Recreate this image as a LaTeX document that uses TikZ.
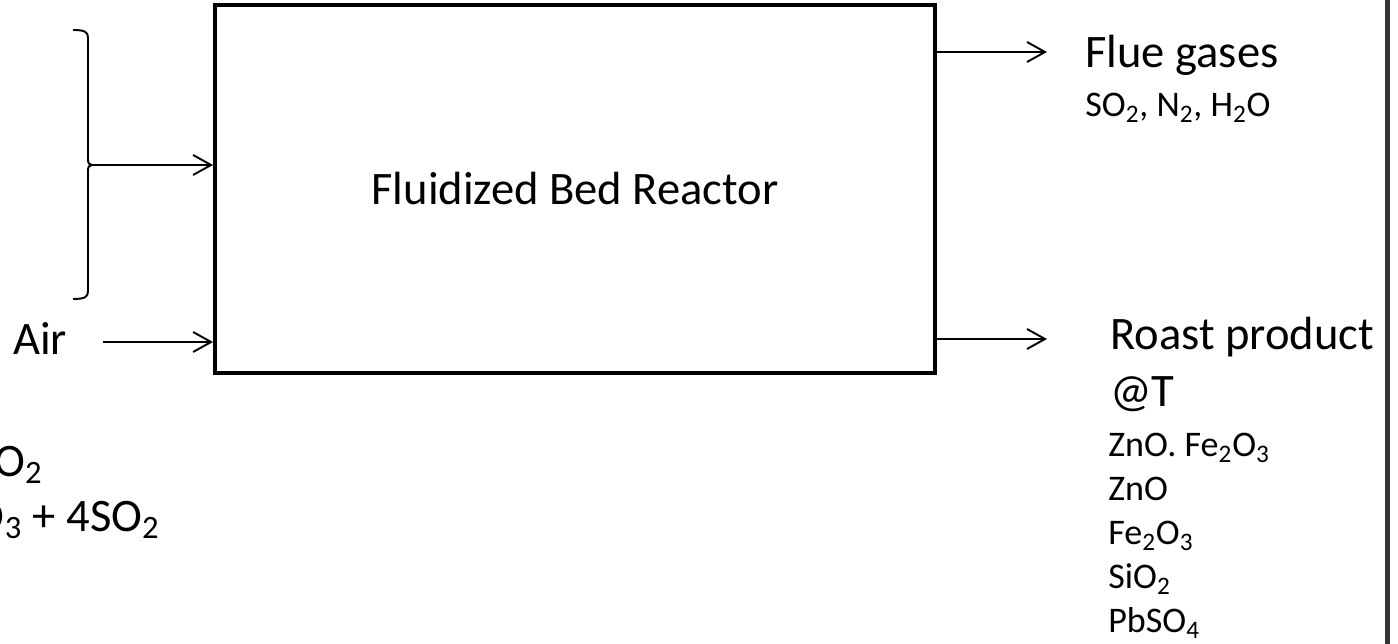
\documentclass[tikz,border=0pt]{standalone}
\usepackage{fontspec}
\setmainfont{Carlito}
\usepackage{tikz}
\usetikzlibrary{arrows.meta}

\newcommand{\chsub}[1]{\textsubscript{#1}}

\begin{document}
\begin{tikzpicture}[
   reactor/.style={rectangle,draw,line width=2.2pt,minimum width=14.4cm,
      minimum height=7.36cm,inner sep=0pt,font=\fontsize{26.5}{32}\selectfont},
   bigtext/.style={inner sep=0pt,font=\fontsize{26.5}{32}\selectfont},
   midtext/.style={inner sep=0pt,font=\fontsize{20.5}{25}\selectfont},
   smalltext/.style={inner sep=0pt,font=\fontsize{20.5}{25}\selectfont},
   flow/.style={line width=1.1pt,-{Straight Barb[length=0.36cm,width=0.40cm]}},
   brace/.style={line width=1.1pt}
]
   \useasboundingbox (0,0) rectangle (27.96,12.88);

   \node[reactor] (fbr) at (11.50,9.10) {Fluidized Bed Reactor};

   % feed bracket
   \draw[brace] (1.46,12.28) .. controls (1.70,12.28) and (1.76,12.24) .. (1.76,12.12)
      -- (1.76,9.70) .. controls (1.76,9.62) and (1.78,9.58) .. (1.84,9.58)
      .. controls (1.78,9.58) and (1.76,9.54) .. (1.76,9.46)
      -- (1.76,7.06) .. controls (1.76,6.94) and (1.70,6.90) .. (1.46,6.90);
   \coordinate (feed) at (1.84,9.58);

   \node[bigtext,anchor=base west] (air) at (0.26,5.78) {Air};
   \coordinate (airin) at (2.06,6.04);

   \node[bigtext,anchor=base east] (rx1) at (0.86,3.34) {O\chsub{2}};
   \node[bigtext,anchor=base east] (rx2) at (3.20,2.24) {O\chsub{3} + 4SO\chsub{2}};

   \draw[flow] (feed) -- (fbr.west |- feed);
   \draw[flow] (airin) -- (fbr.west |- airin);

   % outlets
   \coordinate (flueout) at (20.94,11.84);
   \coordinate (roastout) at (20.94,6.10);
   \draw[flow] (fbr.east |- flueout) -- (flueout);
   \draw[flow] (fbr.east |- roastout) -- (roastout);

   \node[bigtext,anchor=base west] (flue) at (21.70,11.52) {Flue gases};
   \node[midtext,anchor=base west] (fluegas) at (21.70,10.54)
      {SO\chsub{2}, N\chsub{2}, H\chsub{2}O};

   \node[bigtext,anchor=base west] (roast) at (22.20,5.88) {Roast product};
   \node[bigtext,anchor=base west] (temp) at (22.20,4.74) {@T};

   \foreach \y/\t [count=\i] in {3.74/{ZnO. Fe\chsub{2}O\chsub{3}},2.86/ZnO,
         1.98/{Fe\chsub{2}O\chsub{3}},1.10/{SiO\chsub{2}},0.22/{PbSO\chsub{4}}} {
      \node[smalltext,anchor=base west] (prod\i) at (22.16,\y) {\t};
   }

   % slide edge
   \draw[line width=2.5pt,black!80] (27.75,0) -- (27.75,12.88);
\end{tikzpicture}
\end{document}
